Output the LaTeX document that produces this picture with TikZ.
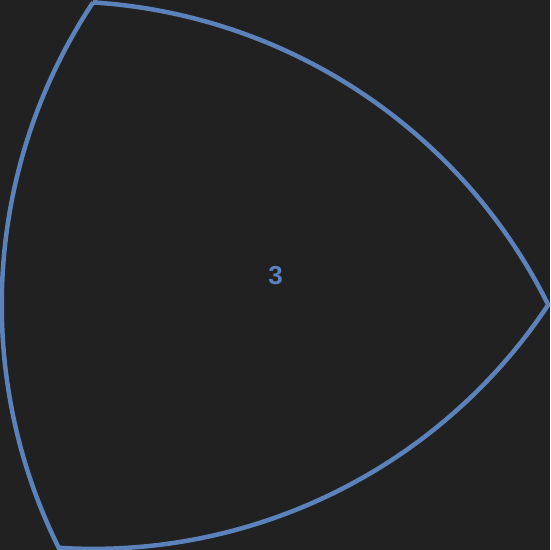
\documentclass[tikz,border=0pt]{standalone}
\usepackage{fontspec}
\setmainfont{Liberation Sans}
\usetikzlibrary{calc}
\definecolor{bg}{HTML}{212121}
\definecolor{edge}{HTML}{5B82BA}
\begin{document}
\begin{tikzpicture}[x=1pt,y=1pt,
  shapeline/.style={draw=edge,line width=4.5pt,line join=miter},
  label3/.style={text=edge,font=\fontsize{26}{30}\selectfont\bfseries}]
\useasboundingbox (0,0) rectangle (550,550);
\fill[bg] (0,0) rectangle (550,550);
\begin{scope}
\clip (0,0) rectangle (550,550);
\coordinate (G) at (233.3,265);
\coordinate (A) at ($(G)+(116.4:315.5)$);
\coordinate (B) at ($(G)+(-3.6:315.5)$);
\coordinate (C) at ($(G)+(236.4:315.5)$);
\draw[shapeline] (A) arc[start angle=86.4,end angle=26.4,radius=546.5]
  arc[start angle=-33.6,end angle=-93.6,radius=546.5]
  arc[start angle=206.4,end angle=146.4,radius=546.5] -- cycle;
\end{scope}
\node[label3] (t) at (275.5,274) {3};
\end{tikzpicture}
\end{document}
